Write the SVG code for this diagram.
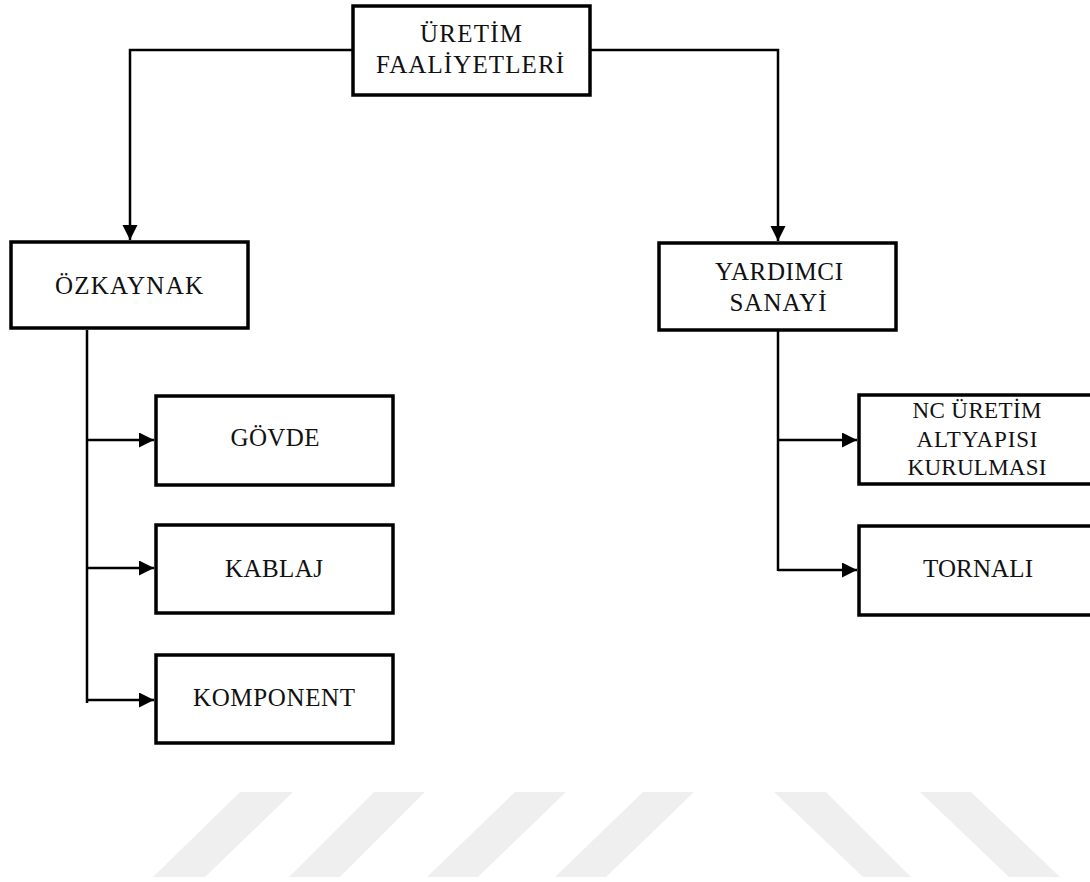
<svg xmlns="http://www.w3.org/2000/svg" width="1090" height="882" viewBox="0 0 1090 882">
<style>
.box{fill:#fff;stroke:#000;stroke-width:3.5}
.lbl{font-family:"Liberation Serif","Times New Roman",serif;font-size:25px;fill:#111;text-anchor:middle}
.sm{font-size:23px}
.con{fill:none;stroke:#000;stroke-width:2.5}
.wm{fill:#efefef}
</style>
<defs>
<marker id="arr" markerUnits="userSpaceOnUse" markerWidth="16" markerHeight="16" refX="15" refY="7.5" orient="auto">
<path d="M0,0 L15,7.5 L0,15 z" fill="#000"/>
</marker>
</defs>
<rect width="1090" height="882" fill="#fff"/>
<g id="watermark">
<polygon class="wm" points="240,792 293,792 205,877 153,877"/>
<polygon class="wm" points="374,792 425,792 340,877 289,877"/>
<polygon class="wm" points="515,792 566,792 478,877 427,877"/>
<polygon class="wm" points="643,792 694,792 606,877 555,877"/>
<polygon class="wm" points="774,792 826,792 911,877 863,877"/>
<polygon class="wm" points="920,792 971,792 1060,877 1009,877"/>
</g>
<g id="connectors">
<path class="con" d="M352,50 H130 V240" marker-end="url(#arr)"/>
<path class="con" d="M590,50 H778 V241" marker-end="url(#arr)"/>
<path class="con" d="M87,330 V703"/>
<path class="con" d="M87,440 H154" marker-end="url(#arr)"/>
<path class="con" d="M87,568 H154" marker-end="url(#arr)"/>
<path class="con" d="M87,700 H154" marker-end="url(#arr)"/>
<path class="con" d="M778,331 V571"/>
<path class="con" d="M778,440 H857" marker-end="url(#arr)"/>
<path class="con" d="M778,570 H857" marker-end="url(#arr)"/>
</g>
<g id="uretim-faaliyetleri">
<rect class="box" x="353" y="6" width="237" height="89"/>
<text class="lbl" x="471" y="42" textLength="102" lengthAdjust="spacing">ÜRETİM</text>
<text class="lbl" x="470" y="73" textLength="188" lengthAdjust="spacing">FAALİYETLERİ</text>
</g>
<g id="ozkaynak">
<rect class="box" x="11" y="242" width="237" height="86"/>
<text class="lbl" x="129" y="294" textLength="148" lengthAdjust="spacing">ÖZKAYNAK</text>
</g>
<g id="yardimci-sanayi">
<rect class="box" x="659" y="243" width="237" height="87"/>
<text class="lbl" x="779" y="280" textLength="128" lengthAdjust="spacing">YARDIMCI</text>
<text class="lbl" x="778" y="311" textLength="97" lengthAdjust="spacing">SANAYİ</text>
</g>
<g id="govde">
<rect class="box" x="156" y="396" width="237" height="89"/>
<text class="lbl" x="275" y="446" textLength="89" lengthAdjust="spacing">GÖVDE</text>
</g>
<g id="kablaj">
<rect class="box" x="156" y="525" width="237" height="88"/>
<text class="lbl" x="274" y="577" textLength="98" lengthAdjust="spacing">KABLAJ</text>
</g>
<g id="komponent">
<rect class="box" x="156" y="655" width="237" height="88"/>
<text class="lbl" x="274" y="706" textLength="162" lengthAdjust="spacing">KOMPONENT</text>
</g>
<g id="nc-uretim">
<rect class="box" x="859" y="395" width="240" height="89"/>
<text class="lbl sm" x="977" y="418" textLength="129" lengthAdjust="spacing">NC ÜRETİM</text>
<text class="lbl sm" x="977" y="447" textLength="121" lengthAdjust="spacing">ALTYAPISI</text>
<text class="lbl sm" x="977" y="475" textLength="139" lengthAdjust="spacing">KURULMASI</text>
</g>
<g id="tornali">
<rect class="box" x="859" y="526" width="240" height="89"/>
<text class="lbl" x="978" y="577" textLength="110" lengthAdjust="spacing">TORNALI</text>
</g>
</svg>
